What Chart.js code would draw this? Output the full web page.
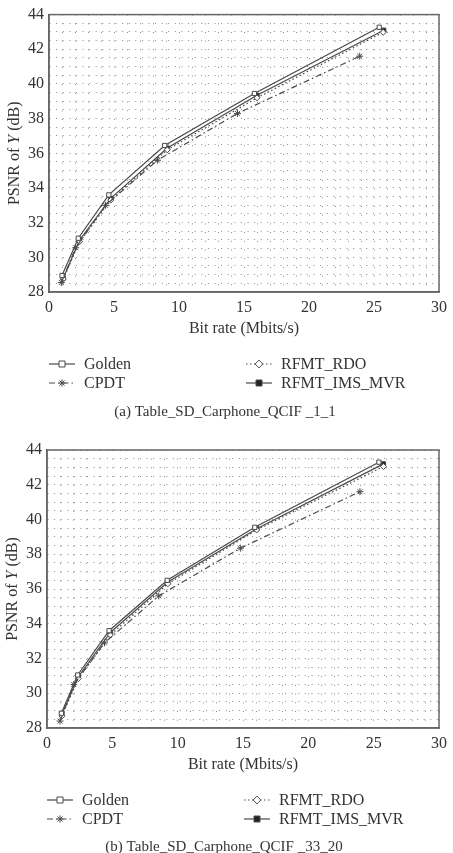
<!DOCTYPE html>
<html>
<head>
<meta charset="utf-8">
<script src="https://cdn.jsdelivr.net/npm/chart.js@4/dist/chart.umd.min.js"></script>
<style>
  html, body { margin: 0; padding: 0; background: #fff; }
  body { width: 453px; height: 853px; position: relative; overflow: hidden; }
  .panel { position: absolute; left: 0; width: 453px; }
</style>
</head>
<body>
<div class="panel" style="top:0;height:430px"><canvas id="chartA"></canvas></div>
<div class="panel" style="top:430px;height:423px"><canvas id="chartB"></canvas></div>
<script>
// PSNR vs bit rate, two test tables

const seriesNames = ['Golden', 'CPDT', 'RFMT_RDO', 'RFMT_IMS_MVR'];
const xTickLabels = [0, 5, 10, 15, 20, 25, 30];
const yTickLabels = [28, 30, 32, 34, 36, 38, 40, 42, 44];

// (a) Table_SD_Carphone_QCIF _1_1
const rateGoldenA = [1.0, 2.25, 4.6, 8.9, 15.8, 25.4];
const psnrGoldenA = [28.95, 31.1, 33.6, 36.45, 39.45, 43.27];
const rateCpdtA = [0.95, 2.05, 4.35, 8.35, 14.5, 23.9];
const psnrCpdtA = [28.55, 30.55, 33.0, 35.6, 38.3, 41.6];
const rateRdoA = [1.1, 2.35, 4.75, 9.1, 16.0, 25.7];
const psnrRdoA = [28.75, 30.9, 33.3, 36.2, 39.2, 42.98];
const rateImsA = [1.1, 2.35, 4.75, 9.1, 16.0, 25.75];
const psnrImsA = [28.8, 31.0, 33.4, 36.3, 39.35, 43.1];

// (b) Table_SD_Carphone_QCIF _33_20
const rateGoldenB = [1.1, 2.35, 4.75, 9.2, 15.9, 25.4];
const psnrGoldenB = [28.85, 31.05, 33.6, 36.5, 39.55, 43.3];
const rateCpdtB = [1.0, 2.05, 4.4, 8.55, 14.8, 23.95];
const psnrCpdtB = [28.4, 30.5, 32.9, 35.6, 38.35, 41.6];
const rateRdoB = [1.15, 2.4, 4.85, 9.25, 16.05, 25.75];
const psnrRdoB = [28.7, 30.85, 33.35, 36.3, 39.4, 43.05];
const rateImsB = [1.15, 2.4, 4.85, 9.25, 16.05, 25.75];
const psnrImsB = [28.8, 30.95, 33.5, 36.4, 39.47, 43.2];

const FONT = "'Liberation Serif', 'DejaVu Serif', serif";
const INK = '#333';
const LINE = '#4a4a4a';
const GRID = '#8c8c8c';

const STYLES = [
  { pointStyle: 'rect', dash: [], fill: '#fff' },
  { pointStyle: 'star', dash: [6, 3, 1.5, 3], fill: '#fff' },
  { pointStyle: 'rectRot', dash: [1.5, 2.5], fill: '#fff' },
  { pointStyle: 'rect', dash: [], fill: '#222' }
];

function pts(xs, ys) {
  return xs.map((x, i) => ({ x, y: ys[i] }));
}

function drawMarker(ctx, style, x, y, r, fill) {
  ctx.save();
  ctx.strokeStyle = LINE;
  ctx.fillStyle = fill;
  ctx.lineWidth = 1;
  ctx.setLineDash([]);
  ctx.beginPath();
  if (style === 'rect') {
    ctx.rect(x - r, y - r, 2 * r, 2 * r);
    ctx.fill(); ctx.stroke();
  } else if (style === 'rectRot') {
    ctx.moveTo(x, y - r * 1.3); ctx.lineTo(x + r * 1.3, y);
    ctx.lineTo(x, y + r * 1.3); ctx.lineTo(x - r * 1.3, y); ctx.closePath();
    ctx.fill(); ctx.stroke();
  } else {
    for (let k = 0; k < 4; k++) {
      const a = k * Math.PI / 4;
      ctx.moveTo(x - Math.cos(a) * r * 1.2, y - Math.sin(a) * r * 1.2);
      ctx.lineTo(x + Math.cos(a) * r * 1.2, y + Math.sin(a) * r * 1.2);
    }
    ctx.stroke();
  }
  ctx.restore();
}

function makeChart(id, sets, caption, box) {
  const datasets = sets.map((s, i) => ({
    label: seriesNames[i],
    data: pts(s[0], s[1]),
    borderColor: LINE,
    borderWidth: 1.2,
    borderDash: STYLES[i].dash,
    pointStyle: STYLES[i].pointStyle,
    pointRadius: i === 1 ? 3.5 : 3,
    pointBorderWidth: 1,
    pointBorderColor: LINE,
    pointBackgroundColor: STYLES[i].fill,
    tension: 0,
    fill: false
  }));

  const decor = {
    id: 'decor',
    afterDraw(chart) {
      const { ctx, chartArea: a } = chart;
      ctx.save();
      ctx.strokeStyle = '#666';
      ctx.lineWidth = 1.5;
      ctx.setLineDash([]);
      ctx.strokeRect(a.left, a.top, a.right - a.left, a.bottom - a.top);

      // y axis title, "Y" in italics
      const parts = [['PSNR of ', '16px '], ['Y', 'italic 16px '], [' (dB)', '16px ']];
      let total = 0;
      parts.forEach(p => { ctx.font = p[1] + FONT; total += ctx.measureText(p[0]).width; });
      ctx.translate(box.titleX, (a.top + a.bottom) / 2);
      ctx.rotate(-Math.PI / 2);
      ctx.fillStyle = INK;
      ctx.textBaseline = 'middle';
      ctx.textAlign = 'left';
      let px = -total / 2;
      parts.forEach(p => {
        ctx.font = p[1] + FONT;
        ctx.fillText(p[0], px, 0);
        px += ctx.measureText(p[0]).width;
      });
      ctx.restore();

      // legend, two columns
      ctx.save();
      ctx.font = '16px ' + FONT;
      ctx.fillStyle = INK;
      ctx.textBaseline = 'middle';
      const cols = [0, 197];
      const rows = [72, 91];
      datasets.forEach((d, i) => {
        const cx = a.left + cols[Math.floor(i / 2)];
        const cy = a.bottom + rows[i % 2];
        ctx.save();
        ctx.strokeStyle = LINE;
        ctx.lineWidth = 1.2;
        ctx.setLineDash(d.borderDash);
        ctx.beginPath();
        ctx.moveTo(cx, cy); ctx.lineTo(cx + 26, cy);
        ctx.stroke();
        ctx.restore();
        drawMarker(ctx, d.pointStyle, cx + 13, cy, 3, d.pointBackgroundColor);
        ctx.fillText(d.label, cx + 35, cy + 1);
      });

      // caption
      ctx.font = '15px ' + FONT;
      ctx.textAlign = 'center';
      ctx.fillText(caption, box.captionX, a.bottom + box.captionDy);
      ctx.restore();
    }
  };

  return new Chart(document.getElementById(id), {
    type: 'line',
    data: { datasets },
    options: {
      responsive: true,
      maintainAspectRatio: false,
      animation: false,
      layout: { padding: { top: box.top, right: box.right, bottom: box.bottom, left: 0 } },
      plugins: { legend: { display: false }, tooltip: { enabled: false } },
      scales: {
        x: {
          type: 'linear', min: 0, max: 30,
          afterFit: s => { s.height = 50; },
          grid: { color: GRID, lineWidth: 1, drawTicks: false },
          border: { display: true, color: '#666', width: 1.5, dash: [1, 7.7] },
          ticks: {
            stepSize: 1, autoSkip: false, maxRotation: 0, padding: 6,
            color: INK, font: { family: FONT, size: 16 },
            callback: v => xTickLabels.includes(v) ? String(v) : ''
          },
          title: {
            display: true, text: 'Bit rate (Mbits/s)', color: INK,
            font: { family: FONT, size: 16 }, padding: { top: 3 }
          }
        },
        y: {
          type: 'linear', min: 28, max: 44,
          afterFit: s => { s.width = box.left; },
          grid: { color: GRID, lineWidth: 1, drawTicks: false },
          border: { display: true, color: '#666', width: 1.5, dash: [1, 5.6] },
          ticks: {
            stepSize: 0.5, autoSkip: false, padding: 5,
            color: INK, font: { family: FONT, size: 16 },
            callback: v => yTickLabels.includes(v) ? String(v) : ''
          }
        }
      }
    },
    plugins: [decor]
  });
}

makeChart('chartA',
  [[rateGoldenA, psnrGoldenA], [rateCpdtA, psnrCpdtA], [rateRdoA, psnrRdoA], [rateImsA, psnrImsA]],
  '(a) Table_SD_Carphone_QCIF _1_1',
  { top: 14, right: 8, bottom: 88, left: 49, titleX: 15, captionX: 225, captionDy: 120 });

makeChart('chartB',
  [[rateGoldenB, psnrGoldenB], [rateCpdtB, psnrCpdtB], [rateRdoB, psnrRdoB], [rateImsB, psnrImsB]],
  '(b) Table_SD_Carphone_QCIF _33_20',
  { top: 20, right: 10, bottom: 75, left: 47, titleX: 13, captionX: 224, captionDy: 119 });
</script>
</body>
</html>
